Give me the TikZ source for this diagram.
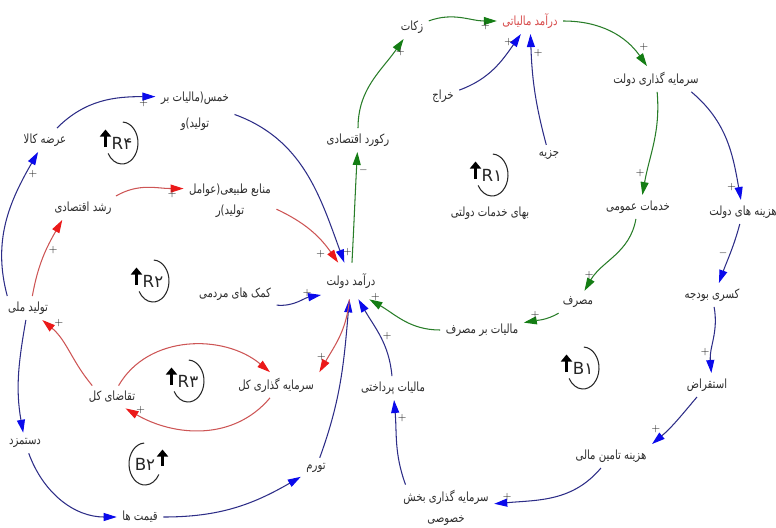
\documentclass[tikz,border=0pt]{standalone}
\usepackage{fontspec}
\usepackage{xcolor}
\usetikzlibrary{arrows.meta}
\newfontfamily\fafont[Script=Arabic,FakeStretch=0.8]{DejaVu Sans}
\newfontfamily\loopfont[Script=Arabic]{DejaVu Sans}
\TeXXeTstate=1
\newcommand{\fatext}[1]{\beginR#1\endR}
\definecolor{blueln}{RGB}{45,45,135}
\definecolor{bluehd}{RGB}{10,10,235}
\definecolor{greenln}{RGB}{40,125,40}
\definecolor{greenhd}{RGB}{20,125,20}
\definecolor{redln}{RGB}{205,85,85}
\definecolor{redhd}{RGB}{235,25,25}
\definecolor{taxred}{RGB}{215,75,75}
\definecolor{txt}{RGB}{45,45,45}

\begin{document}
\begin{tikzpicture}[
    x=0.02cm,
    y=-0.02cm,
    var/.style={
        font=\fafont\fontsize{7.2}{9}\selectfont,
        text=txt,
        align=center,
        inner sep=3pt
    },
    sgn/.style={
        font=\fontsize{5.5}{5.5}\selectfont,
        text=txt,
        inner sep=1pt
    },
    blueline/.style={
        draw=blueln,
        line width=0.6pt,
        -{Triangle[length=2.6mm,width=1.6mm,color=bluehd]}
    },
    greenline/.style={
        draw=greenln,
        line width=0.6pt,
        -{Triangle[length=2.6mm,width=1.6mm,color=greenhd]}
    },
    redline/.style={
        draw=redln,
        line width=0.6pt,
        -{Triangle[length=2.6mm,width=1.6mm,color=redhd]}
    },
    looplbl/.style={
        font=\loopfont\fontsize{9.5}{10}\selectfont,
        text=black!85,
        inner sep=0pt
    },
    loopring/.style={
        draw=black!85,
        line width=0.6pt
    },
    looptip/.style={
        draw=black,
        line width=1.8pt,
        -{Triangle[length=1.4mm,width=2.2mm]}
    }
]
    \useasboundingbox (0,0) rectangle (776,527);

    % Variables
    \node [var, text=taxred] (taxinc) at (530,21) {\fatext{درآمد مالیاتی}};
    \node [var] (zakat) at (412,27) {\fatext{زکات}};
    \node [var] (kharaj) at (443,96) {\fatext{خراج}};
    \node [var] (jizya) at (549,155) {\fatext{جزیه}};
    \node [var] (govinv) at (656,79) {\fatext{سرمایه گذاری دولت}};
    \node [var] (govexp) at (743,212) {\fatext{هزینه های دولت}};
    \node [var] (pubsrv) at (638,207) {\fatext{خدمات عمومی}};
    \node [var] (deficit) at (712,295) {\fatext{کسری بودجه}};
    \node [var] (consum) at (578,302) {\fatext{مصرف}};
    \node [var] (constax) at (482,330) {\fatext{مالیات بر مصرف}};
    \node [var] (borrow) at (707,385) {\fatext{استقراض}};
    \node [var] (fincost) at (611,456) {\fatext{هزینه تامین مالی}};
    \node [var] (privinv) at (446,508) {\fatext{سرمایه گذاری بخش}\\[3pt]\fatext{خصوصی}};
    \node [var] (paidtax) at (393,388) {\fatext{مالیات پرداختی}};
    \node [var] (infl) at (316,468) {\fatext{تورم}};
    \node [var] (prices) at (140,517) {\fatext{قیمت ها}};
    \node [var] (wage) at (25,443) {\fatext{دستمزد}};
    \node [var] (natprod) at (28,308) {\fatext{تولید ملی}};
    \node [var] (aggdem) at (112,397) {\fatext{تقاضای کل}};
    \node [var] (totinv) at (276,385) {\fatext{سرمایه گذاری کل}};
    \node [var] (donat) at (235,294) {\fatext{کمک های مردمی}};
    \node [var, inner ysep=6pt] (govinc) at (351,281) {\fatext{درآمد دولت}};
    \node [var] (recess) at (358,140) {\fatext{رکورد اقتصادی}};
    \node [var] (natres) at (230,201) {\fatext{منابع طبیعی(عوامل}\\[3pt]\fatext{تولید)ر}};
    \node [var] (growth) at (83,208) {\fatext{رشد اقتصادی}};
    \node [var] (supply) at (45,140) {\fatext{عرضه کالا}};
    \node [var] (khums) at (195,111) {\fatext{خمس(مالیات بر}\\[6pt]\fatext{تولید)و}};
    \node [var] (svcprice) at (490,213) {\fatext{بهای خدمات دولتی}};

    % Loop markers
    \node [looplbl] (loopR1) at (492,175) {R۱};
    \node [looplbl] (loopR2) at (153,281) {R۲};
    \node [looplbl] (loopR3) at (188,381) {R۳};
    \node [looplbl] (loopR4) at (122,143) {R۴};
    \node [looplbl] (loopB1) at (583,368) {B۱};
    \node [looplbl] (loopB2) at (145,464) {B۲};
    \foreach \lp in {loopR1,loopR2,loopR3,loopR4,loopB1} {
        \draw [loopring] (\lp.center) ++(87:0.32cm and 0.42cm)
            arc[start angle=87, end angle=-150, x radius=0.32cm, y radius=0.42cm];
        \draw [looptip] (\lp.center) ++(-0.33cm,-0.08cm) -- ++(0,0.35cm);
    }
    \draw [loopring] (loopB2.center) ++(93:0.32cm and 0.42cm)
        arc[start angle=93, end angle=330, x radius=0.32cm, y radius=0.42cm];
    \draw [looptip] (loopB2.center) ++(0.35cm,-0.04cm) -- ++(0,0.33cm);

    % Green links
    \path [greenline] (zakat) to[out=20,in=180] node[sgn,pos=.85,below] {+} (taxinc);
    \path [greenline] (recess) to[out=90,in=235] node[sgn,pos=.85,right] {+} (zakat);
    \path [greenline] (govinc) to[out=87,in=-93] node[sgn,pos=.85,right] {$-$} (recess);
    \path [greenline] (taxinc) to[out=0,in=125] node[sgn,pos=.85,above right] {+} (govinv);
    \path [greenline] (govinv) to[out=-85,in=80] node[sgn,pos=.8,left] {+} (pubsrv.70);
    \path [greenline] (pubsrv) to[out=-100,in=60] node[sgn,pos=.8,left] {+} (consum);
    \path [greenline] (consum) to[out=210,in=10] node[sgn,pos=.7,above] {+} (constax);
    \path [greenline] (constax) to[out=180,in=-30] node[sgn,pos=.92,above] {+} (govinc.-45);

    % Blue links
    \path [blueline] (kharaj) to[out=20,in=235] node[sgn,pos=.9,left] {+} (taxinc);
    \path [blueline] (jizya) to[out=105,in=-88] node[sgn,pos=.85,right] {+} (taxinc);
    \path [blueline] (govinv.-20) to[out=-40,in=100] node[sgn,pos=.9,left] {+} (govexp);
    \path [blueline] (govexp) to[out=-105,in=70] node[sgn,pos=.5,left] {$-$} (deficit.60);
    \path [blueline] (deficit) to[out=-80,in=95] node[sgn,pos=.7,left] {+} (borrow.70);
    \path [blueline] (borrow) to[out=-130,in=40] node[sgn,pos=.8,above left] {+} (fincost.north east);
    \path [blueline] (fincost) to[out=-130,in=5] node[sgn,pos=.9,above] {+} (privinv);
    \path [blueline] (privinv.150) to[out=110,in=-85] node[sgn,pos=.8,right] {+} (paidtax);
    \path [blueline] (paidtax) to[out=95,in=-60] node[sgn,pos=.5,right] {+} (govinc.-68);
    \path [blueline] (infl) to[out=70,in=-95] (govinc);
    \path [blueline] (prices) to[out=0,in=210] (infl);
    \path [blueline] (wage) to[out=-70,in=180] (prices);
    \path [blueline] (natprod) to[out=-100,in=100] (wage);
    \path [blueline] (natprod.150) to[out=105,in=240] node[sgn,pos=.85,right] {+} (supply);
    \path [blueline] (supply) to[out=45,in=180] node[sgn,pos=.9,below] {+} (khums.160);
    \path [blueline] (khums.-5) to[out=-20,in=110] node[sgn,pos=.95,right] {+} (govinc);
    \path [blueline] (donat.-15) to[out=-5,in=190] node[sgn,pos=.7,above] {+} (govinc.205);

    % Red links
    \path [redline] (natprod.70) to[out=80,in=240] node[sgn,pos=.6,right] {+} (growth.210);
    \path [redline] (growth.20) to[out=30,in=180] node[sgn,pos=.85,below] {+} (natres.165);
    \path [redline] (natres.-10) to[out=-25,in=125] node[sgn,pos=.8,below left] {+} (govinc);
    \path [redline] (govinc) to[out=-95,in=60] node[sgn,pos=.8,left] {+} (totinv.north east);
    \path [redline] (aggdem.60) to[out=60,in=140] (totinv.115);
    \path [redline] (totinv.-115) to[out=-130,in=-30] node[sgn,pos=.9,above] {+} (aggdem.-40);
    \path [redline] (aggdem.150) to[out=130,in=-40] node[sgn,pos=.85,above right] {+} (natprod);
\end{tikzpicture}
\end{document}
